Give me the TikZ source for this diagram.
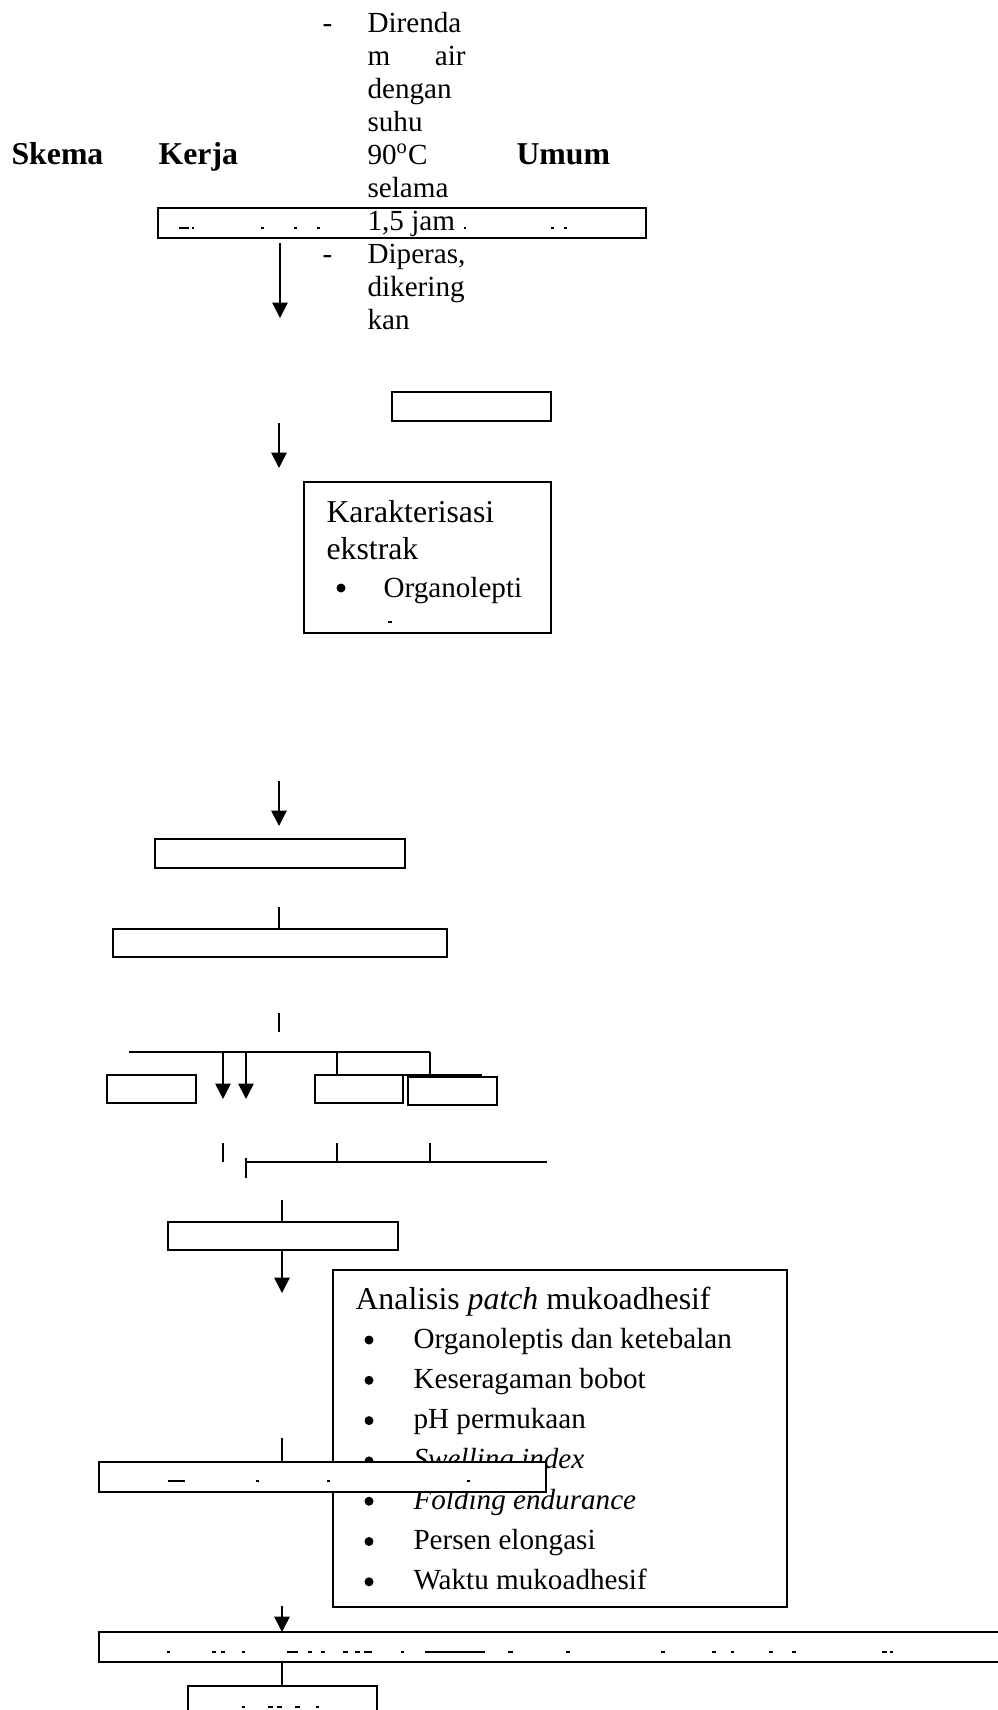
\documentclass[tikz,border=0pt]{standalone}
\usepackage{fontspec}
\setmainfont{Liberation Serif}
\usetikzlibrary{arrows.meta}

\newcommand{\pu}{0.3774pt}
\newcommand{\besar}{\fontsize{12}{14}\selectfont}
\newcommand{\kecil}{\fontsize{11}{13}\selectfont}

\begin{document}
\begin{tikzpicture}[x=0.3774pt, y=-0.3774pt,
    kotak/.style={draw, line width=0.65pt, fill=white, inner sep=0pt, outer sep=0pt, anchor=north west},
    garis/.style={line width=0.65pt},
    tipis/.style={line width=0.4pt},
    panah/.style={line width=0.65pt, -{Triangle[length=5.8pt, width=5.8pt]}},
    teks/.style={inner sep=0pt, anchor=base west, font=\kecil},
    judul/.style={inner sep=0pt, anchor=base west, font=\besar},
    titik/.style={circle, fill=black, inner sep=0pt, minimum size=9*\pu},
    sisa/.style={fill=black}]
    \useasboundingbox (0,0) rectangle (998,1710);

    \node[judul, font=\besar\bfseries] (skema) at (11,164) {Skema};
    \node[judul, font=\besar\bfseries] (kerja) at (158,164) {Kerja};
    \node[judul, font=\besar\bfseries] (umum) at (516,164) {Umum};

    \node[kotak, minimum width=488*\pu, minimum height=30*\pu] (rendam) at (158,208) {};
    \foreach \x/\w in {179/10, 192/2, 261/3, 294/3, 317/3, 464/2, 551/3, 564/3}
        \fill[sisa] (\x,229) rectangle ++(\w,-2);
    \node[teks] (strip1) at (322,32) {-};
    \node[teks] (strip2) at (322,263) {-};
    \foreach \t [count=\i from 0] in {Direnda, {\hbox to 37pt{m\hfill air}}, dengan, suhu,
        {90\textsuperscript{o}C}, selama, {1,5 jam}, {Diperas,}, dikering, kan}
        \node[teks] (baris\i) at (367,32+33*\i) {\t};

    \coordinate (a1s) at (280,243);
    \coordinate (a1e) at (280,318);
    \draw[panah] (a1s) -- (a1e);

    \node[kotak, minimum width=159*\pu, minimum height=29*\pu] (hasil) at (392,392) {};
    \coordinate (a2s) at (279,423);
    \coordinate (a2e) at (279,468);
    \draw[panah] (a2s) -- (a2e);

    \node[kotak, minimum width=247*\pu, minimum height=151*\pu] (karakter) at (304,482) {};
    \node[judul] (kar1) at (326,522) {Karakterisasi};
    \node[judul] (kar2) at (326,559) {ekstrak};
    \node[titik] (kar3) at (341,588) {};
    \node[teks] (kar4) at (383,597) {Organolepti};
    \fill[sisa] (388,623) rectangle ++(4,-2);

    \coordinate (a3s) at (279,781);
    \coordinate (a3e) at (279,826);
    \draw[panah] (a3s) -- (a3e);

    \node[kotak, minimum width=250*\pu, minimum height=29*\pu] (campur) at (155,839) {};
    \node[kotak, minimum width=334*\pu, minimum height=28*\pu] (larut) at (113,929) {};
    \coordinate (s1) at (279,907);
    \draw[garis] (s1) -- (s1 |- larut.north);
    \coordinate (s2s) at (279,1013);
    \coordinate (s2e) at (279,1032);
    \draw[tipis] (s2s) -- (s2e);

    \node[kotak, minimum width=89*\pu, minimum height=28*\pu] (cabang1) at (107,1075) {};
    \node[kotak, minimum width=88*\pu, minimum height=28*\pu] (cabang2) at (315,1075) {};
    \node[kotak, minimum width=89*\pu, minimum height=28*\pu] (cabang3) at (408,1077) {};
    \coordinate (h1s) at (129,1052);
    \coordinate (h1e) at (430,1052);
    \coordinate (tepi1) at (392,1075);
    \coordinate (tepi2) at (482,1075);
    \draw[garis] (h1s) -- (h1e);
    \draw[garis] (tepi1) -- (tepi2);
    \draw[panah] (223,1052) coordinate (a4s) -- (223,1099) coordinate (a4e);
    \draw[panah] (246,1052) coordinate (a5s) -- (246,1099) coordinate (a5e);
    \draw[garis] (337,1052) coordinate (s3) -- (s3 |- cabang2.north);
    \draw[garis] (h1e) -- (h1e |- tepi1);

    \foreach \x in {223, 337, 430}
        \draw[garis] (\x,1143) -- (\x,1162);
    \coordinate (h2s) at (246,1162);
    \coordinate (h2e) at (547,1162);
    \draw[garis] (h2s) -- (h2e);
    \draw[garis] (246,1158) coordinate (v1s) -- (246,1178) coordinate (v1e);

    \node[kotak, minimum width=230*\pu, minimum height=28*\pu] (cetak) at (168,1222) {};
    \coordinate (s8) at (282,1200);
    \draw[garis] (s8) -- (s8 |- cetak.north);
    \coordinate (a6e) at (282,1293);
    \draw[panah] (a6e |- cetak.south) -- (a6e);

    \node[kotak, minimum width=454*\pu, minimum height=337*\pu] (patch) at (333,1270) {};
    \node[judul] (pjudul) at (355,1309) {Analisis \textit{patch} mukoadhesif};
    \foreach \t [count=\i from 0] in {Organoleptis dan ketebalan, Keseragaman bobot, pH permukaan,
        \textit{Swelling index}, \textit{Folding endurance}, Persen elongasi, Waktu mukoadhesif} {
        \node[titik] (pt\i) at (369,1340+40.3*\i) {};
        \node[teks] (pi\i) at (413,1348+40.3*\i) {\t};
    }

    \node[kotak, minimum width=447*\pu, minimum height=30*\pu] (uji) at (99,1462) {};
    \foreach \x/\w in {168/17, 256/3, 327/3, 467/3}
        \fill[sisa] (\x,1482) rectangle ++(\w,-2);
    \coordinate (s9) at (282,1438);
    \draw[garis] (s9) -- (s9 |- uji.north);

    \node[kotak, minimum width=950*\pu, minimum height=30*\pu] (analisis) at (99,1632) {};
    \foreach \x/\w in {167/3, 212/4, 221/4, 242/3, 287/11, 308/4, 321/4, 343/5, 355/5, 364/8,
        401/3, 425/60, 508/5, 566/4, 661/4, 712/4, 731/3, 769/4, 792/4, 882/5, 890/3}
        \fill[sisa] (\x,1653) rectangle ++(\w,-2);
    \coordinate (a7s) at (282,1606);
    \draw[panah] (a7s) -- (a7s |- analisis.north);

    \node[kotak, minimum width=189*\pu, minimum height=40*\pu] (akhir) at (188,1686) {};
    \foreach \x/\w in {242/3, 268/5, 277/5, 295/5, 316/3}
        \fill[sisa] (\x,1708) rectangle ++(\w,-2);
    \draw[garis] (a7s |- analisis.south) -- (a7s |- akhir.north);
\end{tikzpicture}
\end{document}
